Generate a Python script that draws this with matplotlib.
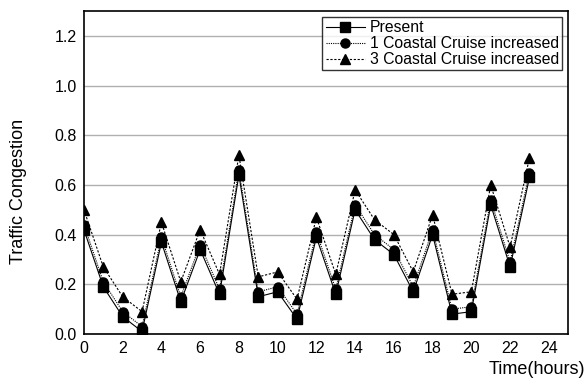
import matplotlib
matplotlib.use('Agg')
import matplotlib.pyplot as plt

plt.rcParams['font.family'] = ['Liberation Sans', 'DejaVu Sans']

hours = list(range(24))
present = [0.42, 0.19, 0.07, 0.01, 0.37, 0.13, 0.34, 0.16, 0.64, 0.15, 0.17, 0.06,
           0.39, 0.16, 0.50, 0.38, 0.32, 0.17, 0.40, 0.08, 0.09, 0.52, 0.27, 0.63]
cruise1 = [0.44, 0.21, 0.09, 0.03, 0.39, 0.15, 0.36, 0.18, 0.66, 0.17, 0.19, 0.08,
           0.41, 0.18, 0.52, 0.40, 0.34, 0.19, 0.42, 0.10, 0.11, 0.54, 0.29, 0.65]
cruise3 = [0.50, 0.27, 0.15, 0.09, 0.45, 0.21, 0.42, 0.24, 0.72, 0.23, 0.25, 0.14,
           0.47, 0.24, 0.58, 0.46, 0.40, 0.25, 0.48, 0.16, 0.17, 0.60, 0.35, 0.71]

fig = plt.figure(figsize=(5.87, 3.8), dpi=100)
ax = fig.add_axes([0.143, 0.121, 0.825, 0.850])

ax.plot(hours, present, color='black', lw=0.8, ls='-', marker='s', ms=6.5, label='Present')
ax.plot(hours, cruise1, color='black', lw=0.8, ls=(0, (1, 1)), marker='o', ms=6.5,
        label='1 Coastal Cruise increased')
ax.plot(hours, cruise3, color='black', lw=0.8, ls=(0, (2, 1.5)), marker='^', ms=7.5,
        label='3 Coastal Cruise increased')

ax.set_xlim(0, 25)
ax.set_ylim(0, 1.3)
ax.set_xticks(range(0, 25, 2))
ax.set_yticks([0.0, 0.2, 0.4, 0.6, 0.8, 1.0, 1.2])
ax.set_yticklabels(['0.0', '0.2', '0.4', '0.6', '0.8', '1.0', '1.2'])
ax.tick_params(length=0, labelsize=11.5, pad=5)
ax.yaxis.grid(True, color='#b0b0b0', lw=1)
ax.set_axisbelow(True)
for s in ax.spines.values():
    s.set_linewidth(1.2)
    s.set_color('black')

fig.text(0.032, 0.495, 'Traffic Congestion', rotation=90, ha='center', va='center', fontsize=13)
fig.text(0.997, 0.005, 'Time(hours)', ha='right', va='bottom', fontsize=13)

leg = ax.legend(loc='upper right', fontsize=11.3, frameon=True, fancybox=False,
                edgecolor='black', borderpad=0.2, labelspacing=0.05,
                handlelength=2.5, handletextpad=0.3, borderaxespad=0.4)
leg.get_frame().set_linewidth(1.0)

fig.savefig('out.png', dpi=100)
